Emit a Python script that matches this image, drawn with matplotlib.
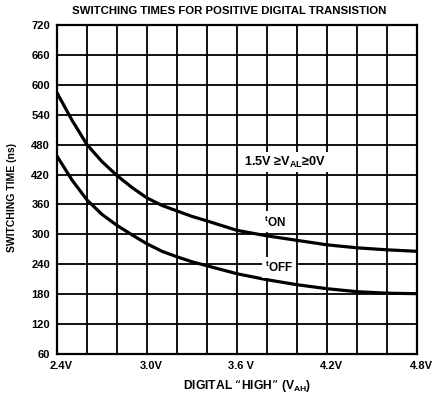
"""Switching times for positive digital transition (datasheet style chart)."""

import matplotlib
matplotlib.use('Agg')
import matplotlib.pyplot as plt
import matplotlib.transforms as mtransforms
from matplotlib.ticker import MultipleLocator, FixedLocator

# values
v_high = [2.4, 2.5, 2.6, 2.7, 2.8, 2.9, 3.0, 3.1, 3.2, 3.3, 3.4,
          3.6, 3.8, 4.0, 4.2, 4.4, 4.6, 4.8]
t_on = [584, 529, 480, 446, 418, 394, 373, 358, 347, 336, 327,
        308, 297, 288, 279, 273, 269, 266]
t_off = [457, 409, 369, 340, 318, 299, 281, 266, 255, 245, 237,
         221, 209, 199, 191, 185, 182, 181]

x_ticks = [2.4, 3.0, 3.6, 4.2, 4.8]
x_tick_labels = ['2.4V', '3.0V', '3.6 V', '4.2V', '4.8V']
y_ticks = list(range(60, 721, 60))

plt.rcParams['font.family'] = ['Liberation Sans', 'DejaVu Sans']
plt.rcParams['font.weight'] = 'bold'
plt.rcParams['axes.labelweight'] = 'bold'
plt.rcParams['mathtext.default'] = 'regular'

fig = plt.figure(figsize=(4.33, 4.0), dpi=100)
ax = fig.add_axes([57 / 433, 1 - 354 / 400, 360 / 433, 329 / 400])

ax.plot(v_high, t_on, color='black', lw=2.3, solid_joinstyle='round', zorder=3)
ax.plot(v_high, t_off, color='black', lw=2.3, solid_joinstyle='round', zorder=3)

ax.set_xlim(2.4, 4.8)
ax.set_ylim(60, 720)
ax.xaxis.set_major_locator(FixedLocator(x_ticks))
ax.xaxis.set_minor_locator(MultipleLocator(0.2))
ax.set_xticklabels(x_tick_labels)
ax.set_yticks(y_ticks)
ax.tick_params(which='both', length=0, labelsize=8)
ax.tick_params(axis='x', pad=5)
ax.tick_params(axis='y', pad=5)
ax.grid(True, which='both', color='black', lw=1.3)
for s in ax.spines.values():
    s.set_linewidth(1.6)

# x tick labels in the original sit a little right of their grid lines
shift = mtransforms.ScaledTranslation(4 / 100, 0, fig.dpi_scale_trans)
for lbl in ax.get_xticklabels():
    lbl.set_transform(lbl.get_transform() + shift)

fig.text(12 / 433, 1 - 198 / 400, 'SWITCHING TIME (ns)', rotation=90,
         ha='center', va='center', fontsize=7.5)
fig.text(247 / 433, 1 - 386 / 400, 'DIGITAL \u201cHIGH\u201d (V$_{AH}$)',
         ha='center', va='center', fontsize=8.7)
fig.text(229 / 433, 1 - 11.5 / 400, 'SWITCHING TIMES FOR POSITIVE DIGITAL TRANSISTION',
         ha='center', va='center', fontsize=8.2)

box = dict(facecolor='white', edgecolor='none', pad=2)
ax.text(3.92, 445, '1.5V \u2265V$_{AL}$\u22650V', ha='center', va='center',
        fontsize=9.2, bbox=box, zorder=4)
ax.text(3.85, 325, '$^{t}$ON', ha='center', va='center', fontsize=8.5, bbox=box, zorder=4)
ax.text(3.88, 234, '$^{t}$OFF', ha='center', va='center', fontsize=8.5, bbox=box, zorder=4)

fig.savefig('out.png', dpi=100)
